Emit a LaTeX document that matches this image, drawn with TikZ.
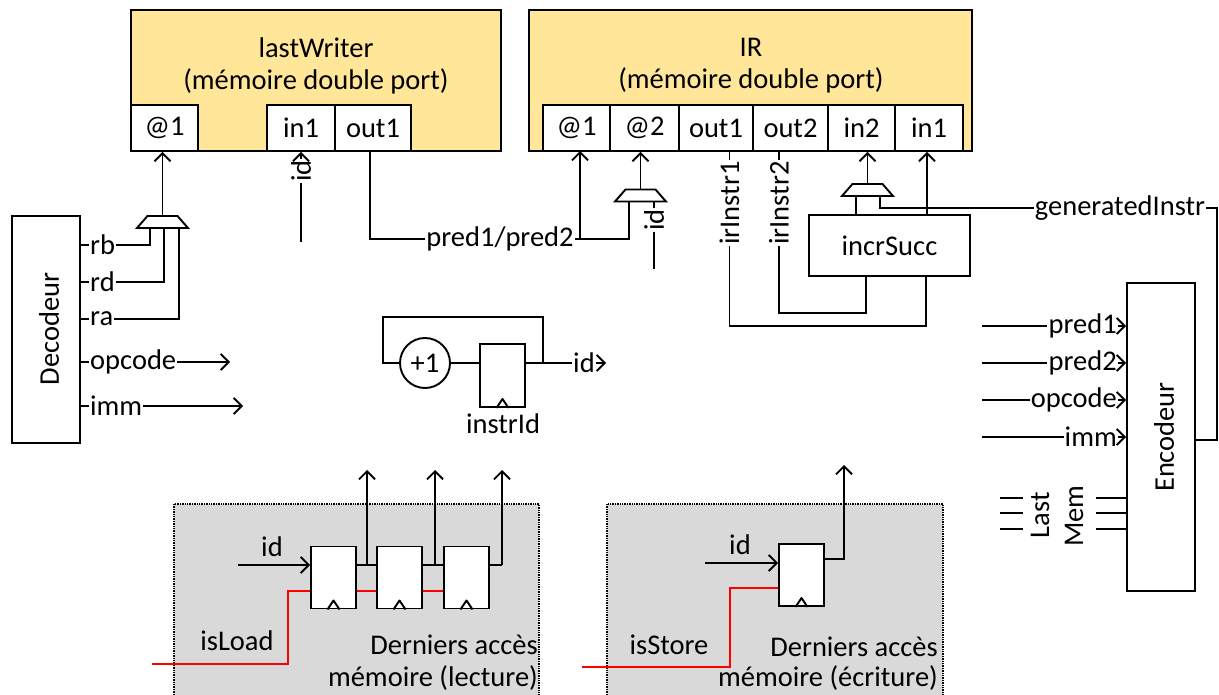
\documentclass[tikz,border=0pt]{standalone}
\usepackage{fontspec}
\setmainfont{Carlito}
\usetikzlibrary{arrows.meta}

\definecolor{memgold}{HTML}{FFE699}
\definecolor{accesgrey}{HTML}{D9D9D9}

\tikzset{
    wire/.style={color=black, line width=1.9pt},
    redwire/.style={color=red, line width=1.9pt},
    membox/.style={draw=black, fill=memgold, line width=1.9pt, minimum height=141pt, inner sep=0pt},
    portbox/.style={draw=black, fill=white, line width=1.9pt, minimum height=46pt, inner sep=0pt},
    unitbox/.style={draw=black, fill=white, line width=1.9pt, inner sep=0pt},
    regbox/.style={draw=black, fill=white, line width=1.9pt, minimum width=45pt, minimum height=62pt, inner sep=0pt},
    lbl/.style={inner sep=1pt, text=black},
    vlbl/.style={inner sep=1pt, text=black, rotate=90},
    accesbox/.style={draw=black, fill=accesgrey, line width=1.4pt, densely dotted},
    muxgate/.pic = {
        \draw[wire, fill=white] (-25.5,6) -- (-15,-6) -- (15,-6) -- (25.5,6) -- cycle;
        \coordinate (-top) at (0,-6);
        \coordinate (-base) at (0,6);
    },
}
\newcommand{\clocktri}[1]{\draw[wire, line join=round] ([xshift=-6pt]#1.south) -- ++(6,-9) -- ++(6,9);}

\begin{document}
\begin{tikzpicture}[x=1pt,y=-1pt,>={Straight Barb[length=8pt,width=16pt]},font={\fontsize{28.5}{32}\selectfont}]
    \useasboundingbox (0,0) rectangle (1219,695);

    \path[accesbox] (174,504) rectangle (539,697);
    \path[accesbox] (607,504) rectangle (943,697);

    \node[membox, minimum width=370pt] (lastWriter) at (316,80.5) {};
    \node[lbl, align=center] (lastWriterTxt) at (316,66) {lastWriter\\(mémoire double port)};
    \node[portbox, minimum width=67pt] (lwAddr) at (164.5,128) {@1};
    \node[portbox, minimum width=68pt] (lwIn) at (301,128) {in1};
    \node[portbox, minimum width=76pt] (lwOut) at (373,128) {out1};

    \node[membox, minimum width=443pt] (ir) at (750.5,80.5) {};
    \node[lbl, align=center] (irTxt) at (751,66) {IR\\(mémoire double port)};
    \node[portbox, minimum width=67pt] (irAddrA) at (576.5,128) {@1};
    \node[portbox, minimum width=69pt] (irAddrB) at (644.5,128) {@2};
    \node[portbox, minimum width=74pt] (irOutA) at (716,128) {out1};
    \node[portbox, minimum width=75pt] (irOutB) at (790.5,128) {out2};
    \node[portbox, minimum width=67pt] (irInB) at (861.5,128) {in2};
    \node[portbox, minimum width=68pt] (irInA) at (929,128) {in1};

    \node[unitbox, minimum width=68pt, minimum height=227pt] (decodeur) at (46,329.5) {};
    \node[vlbl] (decodeurTxt) at (49,329) {Decodeur};
    \node[unitbox, minimum width=68pt, minimum height=308pt] (encodeur) at (1161,437) {};
    \node[vlbl] (encodeurTxt) at (1164,437) {Encodeur};
    \node[unitbox, minimum width=161pt, minimum height=61pt] (incrSucc) at (889.5,245.5) {incrSucc};

    \node[lbl, anchor=west] (rb) at (89,245) {rb};
    \node[lbl, anchor=west] (rd) at (89,282) {rd};
    \node[lbl, anchor=west] (ra) at (89,319) {ra};
    \node[lbl, anchor=west] (opcodeOut) at (89,362) {opcode};
    \node[lbl, anchor=west] (immOut) at (89,406) {imm};
    \coordinate (opcodeEnd) at (230,362);
    \coordinate (immEnd) at (243,406);

    \pic (muxLw) at (162.5,222) {muxgate};
    \draw[wire] (decodeur.east |- rb) -- (rb);
    \draw[wire] (decodeur.east |- rd) -- (rd);
    \draw[wire] (decodeur.east |- ra) -- (ra);
    \draw[wire] (decodeur.east |- opcodeOut) -- (opcodeOut);
    \draw[wire] (decodeur.east |- immOut) -- (immOut);
    \draw[wire] (rb) -| ([xshift=-12.5pt]muxLw-base);
    \draw[wire] (rd) -| ([xshift=1.5pt]muxLw-base);
    \draw[wire] (ra) -| ([xshift=16.5pt]muxLw-base);
    \draw[wire, ->] (opcodeOut) -- (opcodeEnd);
    \draw[wire, ->] (immOut) -- (immEnd);
    \draw[wire, ->] (muxLw-top) -- (muxLw-top |- lwAddr.south);

    \node[vlbl] (idLw) at (301,171) {id};
    \coordinate (idLwStart) at (301,242);
    \draw[wire] (idLwStart) -- (idLw.west);
    \draw[wire, ->] (idLw.east) -- (lwIn.south);

    \pic (muxIrAddr) at (640.5,195.5) {muxgate};
    \node[lbl] (pred) at (500,239) {pred1/pred2};
    \draw[wire] (lwOut.south -| 370,0) |- (pred);
    \coordinate (irAddrFoot) at (580,151);
    \draw[wire, ->] (pred) -| (irAddrFoot);
    \draw[wire] (pred) -| ([xshift=-11.5pt]muxIrAddr-base);
    \draw[wire, ->] (muxIrAddr-top) -- (muxIrAddr-top |- irAddrB.south);
    \node[vlbl] (idIr) at (654,220) {id};
    \coordinate (idIrStart) at (654,269);
    \draw[wire] (idIrStart) -- (idIr.west);
    \draw[wire] (idIr.east) -- (idIr.east |- muxIrAddr-base);

    \node[vlbl] (irInstrA) at (729.5,203) {irInstr1};
    \node[vlbl] (irInstrB) at (779,203) {irInstr2};
    \draw[wire] (irInstrA.east) -- (irInstrA.east |- irOutA.south);
    \draw[wire] (irInstrB.east) -- (irInstrB.east |- irOutB.south);
    \coordinate (fbA) at (926,326);
    \coordinate (fbB) at (866,313);
    \draw[wire] (irInstrA.west) |- (fbA) -- (fbA |- incrSucc.south);
    \draw[wire] (irInstrB.west) |- (fbB) -- (fbB |- incrSucc.south);

    \pic (muxIrIn) at (867.5,190) {muxgate};
    \coordinate (succOutA) at (856,215);
    \coordinate (succOutB) at (927,215);
    \draw[wire] (succOutA) -- (succOutA |- muxIrIn-base);
    \draw[wire, ->] (succOutB) -- (succOutB |- irInA.south);
    \draw[wire, ->] (muxIrIn-top) -- (muxIrIn-top |- irInB.south);

    \node[lbl] (generated) at (1120,208) {generatedInstr};
    \coordinate (genCorner) at (1217,208);
    \coordinate (encOut) at (1195,440);
    \draw[wire] (generated) -| ([xshift=12.5pt]muxIrIn-base);
    \draw[wire] (encOut) -| (genCorner) -- (generated);

    \node[lbl, anchor=east] (predA) at (1118,326) {pred1};
    \node[lbl, anchor=east] (predB) at (1118,363) {pred2};
    \node[lbl, anchor=east] (opcodeIn) at (1118,400) {opcode};
    \node[lbl, anchor=east] (immIn) at (1118,437) {imm};
    \foreach \inname/\iny in {predA/326, predB/363, opcodeIn/400, immIn/437} {
        \coordinate (\inname Start) at (982,\iny);
        \draw[wire] (\inname Start) -- (\inname);
        \draw[wire, ->] (\inname) -- (encodeur.west |- \inname);
    }

    \node[vlbl] (last) at (1040,515) {Last};
    \node[vlbl] (mem) at (1074,516) {Mem};
    \foreach \rowy [count=\rowi] in {498, 513, 529} {
        \coordinate (lastL\rowi) at (1000,\rowy);
        \coordinate (lastR\rowi) at (1023,\rowy);
        \coordinate (memL\rowi) at (1096,\rowy);
        \draw[wire] (lastL\rowi) -- (lastR\rowi);
        \draw[wire] (memL\rowi) -- (encodeur.west |- memL\rowi);
    }

    \node[draw=black, fill=white, line width=1.9pt, circle, minimum size=50pt, inner sep=0pt] (incr) at (425,363) {+1};
    \node[regbox, minimum height=63pt] (instrId) at (502.5,375.5) {};
    \clocktri{instrId}
    \node[lbl] (instrIdTxt) at (503,424) {instrId};
    \node[lbl] (idOut) at (584,363) {id};
    \coordinate (idJoin) at (543,363);
    \coordinate (loopA) at (543,317);
    \coordinate (loopB) at (383,317);
    \coordinate (idEnd) at (606,363);
    \draw[wire] (incr) -- (instrId.west |- incr);
    \draw[wire] (instrId.east |- idJoin) -- (idOut);
    \draw[wire] (idJoin) -- (loopA) -- (loopB) |- (incr);
    \draw[wire, ->] (idOut) -- (idEnd);

    \node[regbox] (lastLoadA) at (333.5,577.5) {};
    \node[regbox] (lastLoadB) at (399.5,577.5) {};
    \node[regbox] (lastLoadC) at (466.5,577.5) {};
    \clocktri{lastLoadA}
    \clocktri{lastLoadB}
    \clocktri{lastLoadC}
    \node[lbl] (idLoad) at (272,547) {id};
    \coordinate (idLoadStart) at (238,565);
    \draw[wire, ->] (idLoadStart) -- (lastLoadA.west |- idLoadStart);
    \draw[wire] (lastLoadA.east |- idLoadStart) -- (lastLoadB.west |- idLoadStart);
    \draw[wire] (lastLoadB.east |- idLoadStart) -- (lastLoadC.west |- idLoadStart);
    \foreach \upx in {367, 435, 502} {
        \coordinate (upStart\upx) at (\upx,565);
        \coordinate (upEnd\upx) at (\upx,470);
        \draw[wire, ->] (upStart\upx) -- (upEnd\upx);
    }
    \draw[wire] (lastLoadC.east |- idLoadStart) -- (upStart502);
    \coordinate (isLoadStart) at (152,664);
    \coordinate (isLoadBend) at (288,591);
    \draw[redwire] (isLoadStart) -| (isLoadBend) -- (lastLoadA.west |- isLoadBend);
    \draw[redwire] (lastLoadA.east |- isLoadBend) -- (lastLoadB.west |- isLoadBend);
    \draw[redwire] (lastLoadB.east |- isLoadBend) -- (lastLoadC.west |- isLoadBend);
    \node[lbl] (isLoad) at (237,641) {isLoad};
    \node[lbl, anchor=east] (accesLoadA) at (539,645) {Derniers accès};
    \node[lbl, anchor=east] (accesLoadB) at (539,678) {mémoire (lecture)};

    \node[regbox] (lastStore) at (801.5,575) {};
    \clocktri{lastStore}
    \node[lbl] (idStore) at (740,545) {id};
    \coordinate (idStoreStart) at (705,563);
    \coordinate (storeOut) at (844,559);
    \coordinate (storeEnd) at (844,465);
    \draw[wire, ->] (idStoreStart) -- (lastStore.west |- idStoreStart);
    \draw[wire, ->] (lastStore.east |- storeOut) -- (storeOut) -- (storeEnd);
    \coordinate (isStoreStart) at (582,667);
    \coordinate (isStoreBend) at (730,588);
    \draw[redwire] (isStoreStart) -| (isStoreBend) -- (lastStore.west |- isStoreBend);
    \node[lbl] (isStore) at (669,645) {isStore};
    \node[lbl, anchor=east] (accesStoreA) at (939,647) {Derniers accès};
    \node[lbl, anchor=east] (accesStoreB) at (939,678) {mémoire (écriture)};
\end{tikzpicture}
\end{document}
